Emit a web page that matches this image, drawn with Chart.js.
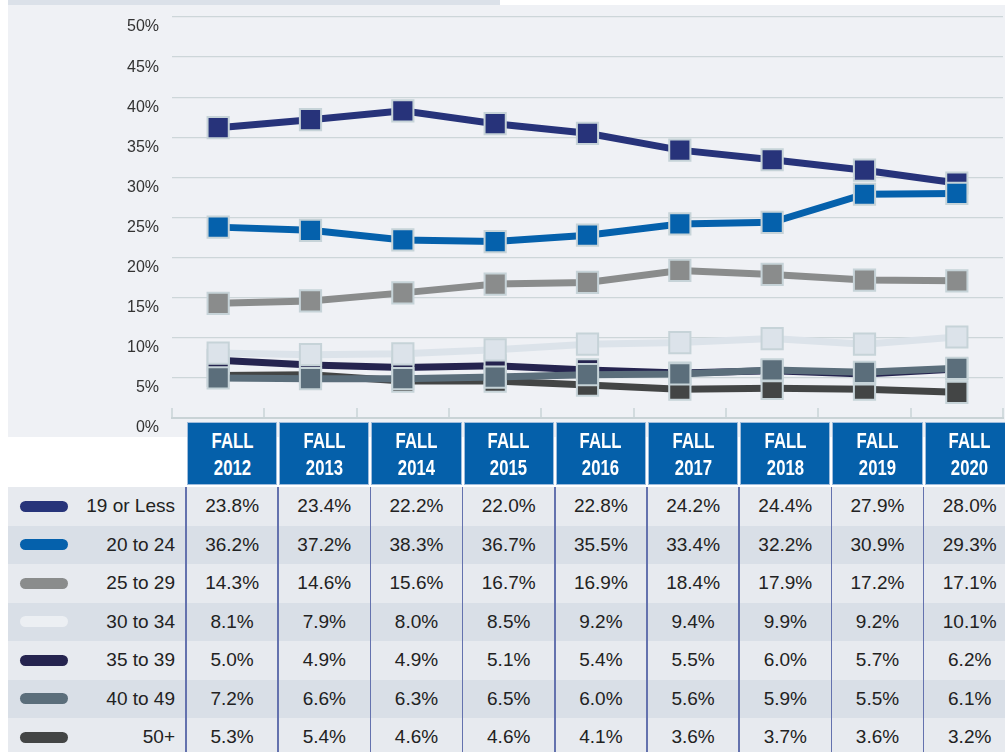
<!DOCTYPE html>
<html>
<head>
<meta charset="utf-8">
<script src="https://cdn.jsdelivr.net/npm/chart.js@4.4.1/dist/chart.umd.min.js"></script>
<style>
  html, body { margin: 0; padding: 0; background: #fff; }
  #page { position: relative; width: 1005px; height: 752px; overflow: hidden; font-family: "Liberation Sans", Arial, sans-serif; }
  #topStrip { position: absolute; left: 8px; top: 0; width: 492px; height: 5px; background: #dbe1e9; }
  #panel { position: absolute; left: 8px; top: 5px; width: 997px; height: 432px; background: #eff1f5; }
  #chartBox { position: absolute; left: 0; top: 0; }
  .hdr { position: absolute; top: 422px; height: 63px; background: #0560aa; box-shadow: inset 0 0 0 1px #9fbcdc;
         color: #fff; text-align: center; font-family: "Liberation Sans", Arial, sans-serif;
         font-weight: bold; font-size: 22px; line-height: 27px; padding-top: 5px; box-sizing: border-box; }
  .hdr span { display: inline-block; transform: scaleX(0.76); }
  .row { position: absolute; left: 8px; width: 997px; }
  .swatch { position: absolute; left: 12px; width: 48px; height: 11px; border-radius: 6px; }
  .lbl { position: absolute; right: 830px; font-size: 19px; color: #222; }
  .cell { position: absolute; font-size: 19px; color: #222; text-align: center; }
  .sep { position: absolute; top: 487px; height: 265px; width: 1.5px; background: #6472ae; }
</style>
</head>
<body>
<div id="page">
  <div id="topStrip"></div>
  <div id="panel"></div>
  <div id="chartBox"><canvas id="ageChart" width="1020" height="440"></canvas></div>
  <div id="table"></div>
</div>
<script>
// table header years
const years = ['2012', '2013', '2014', '2015', '2016', '2017', '2018', '2019', '2020'];

// age group shares (%) per fall term, as listed in the table
const age19OrLess = [23.8, 23.4, 22.2, 22.0, 22.8, 24.2, 24.4, 27.9, 28.0];
const age20to24   = [36.2, 37.2, 38.3, 36.7, 35.5, 33.4, 32.2, 30.9, 29.3];
const age25to29   = [14.3, 14.6, 15.6, 16.7, 16.9, 18.4, 17.9, 17.2, 17.1];
const age30to34   = [8.1, 7.9, 8.0, 8.5, 9.2, 9.4, 9.9, 9.2, 10.1];
const age35to39   = [5.0, 4.9, 4.9, 5.1, 5.4, 5.5, 6.0, 5.7, 6.2];
const age40to49   = [7.2, 6.6, 6.3, 6.5, 6.0, 5.6, 5.9, 5.5, 6.1];
const age50plus   = [5.3, 5.4, 4.6, 4.6, 4.1, 3.6, 3.7, 3.6, 3.2];

const rowLabels = ['19 or Less', '20 to 24', '25 to 29', '30 to 34', '35 to 39', '40 to 49', '50+'];
const rowData = [age19OrLess, age20to24, age25to29, age30to34, age35to39, age40to49, age50plus];
const swatchColors = ['#27347a', '#0561ac', '#8a8c8c', '#eceff3', '#25244f', '#5b6e7b', '#434545'];
// colours the lines actually use in the chart
const lineColors = ['#0561ac', '#27337a', '#8a8c8c', '#dce3ea', '#5b6e7b', '#25244f', '#434545'];

// short upward tick marks on the category axis
const innerTicks = {
    id: 'innerTicks',
    beforeDatasetsDraw(chart) {
        const x = chart.scales.x;
        const ctx = chart.ctx;
        const n = x.ticks.length;
        const step = x.width / n;
        ctx.save();
        ctx.strokeStyle = '#c9d3d6';
        ctx.lineWidth = 1.5;
        for (let i = 0; i <= n; i++) {
            const px = Math.round(x.left + i * step);
            ctx.beginPath();
            ctx.moveTo(px, x.top);
            ctx.lineTo(px, x.top - 10);
            ctx.stroke();
        }
        ctx.restore();
    }
};

new Chart(document.getElementById('ageChart'), {
    type: 'line',
    data: {
        labels: years,
        datasets: rowData.map((vals, i) => ({
            label: rowLabels[i],
            data: vals,
            borderColor: lineColors[i],
            backgroundColor: lineColors[i],
            borderWidth: 7,
            tension: 0,
            pointStyle: 'rect',
            pointRadius: 15,
            pointHoverRadius: 15,
            pointBackgroundColor: lineColors[i],
            pointBorderColor: '#c6d3d8',
            pointBorderWidth: 2
        }))
    },
    options: {
        responsive: false,
        animation: false,
        layout: { padding: { top: 11, bottom: 22, left: 0, right: 4 } },
        plugins: {
            legend: { display: false },
            tooltip: { enabled: false }
        },
        scales: {
            x: {
                offset: true,
                grid: { display: false },
                ticks: { display: false },
                border: { display: true, color: '#c9d3d6', width: 2 },
                afterFit: s => { s.height = 0; s.paddingLeft = 0; s.paddingRight = 0; }
            },
            y: {
                min: 0,
                max: 50,
                ticks: {
                    stepSize: 5,
                    padding: 13,
                    labelOffset: 10,
                    color: '#333',
                    font: { family: 'Liberation Sans', size: 16 },
                    callback: v => v + '%'
                },
                grid: { color: '#cdd6d9', lineWidth: 1.3, drawTicks: false },
                border: { display: false },
                afterFit: s => { s.width = 172; s.paddingTop = 0; s.paddingBottom = 0; }
            }
        }
    },
    plugins: [innerTicks]
});

// data table under the chart
const table = document.getElementById('table');
const colLeft = 186, colW = 92.2, rowTop = 487, rowH = 38.5;
let html = '';
years.forEach((y, i) => {
    html += `<div class="hdr" style="left:${colLeft + i * colW + 1}px;width:${colW - 2}px"><span>FALL</span><br><span>${y}</span></div>`;
});
rowLabels.forEach((lab, r) => {
    const top = rowTop + r * rowH;
    const bg = r % 2 === 0 ? '#e7eaef' : '#d9dfe7';
    html += `<div class="row" style="top:${top}px;height:${rowH}px;background:${bg}">`;
    html += `<div class="swatch" style="top:${rowH / 2 - 5.5}px;background:${swatchColors[r]}"></div>`;
    html += `<div class="lbl" style="top:${rowH / 2 - 11}px">${lab}</div>`;
    html += `</div>`;
    rowData[r].forEach((v, i) => {
        html += `<div class="cell" style="left:${colLeft + i * colW}px;width:${colW}px;top:${top + rowH / 2 - 11}px">${v.toFixed(1)}%</div>`;
    });
});
for (let i = 0; i <= years.length; i++) {
    html += `<div class="sep" style="left:${colLeft + i * colW - 0.75}px"></div>`;
}
table.innerHTML = html;
</script>
</body>
</html>
